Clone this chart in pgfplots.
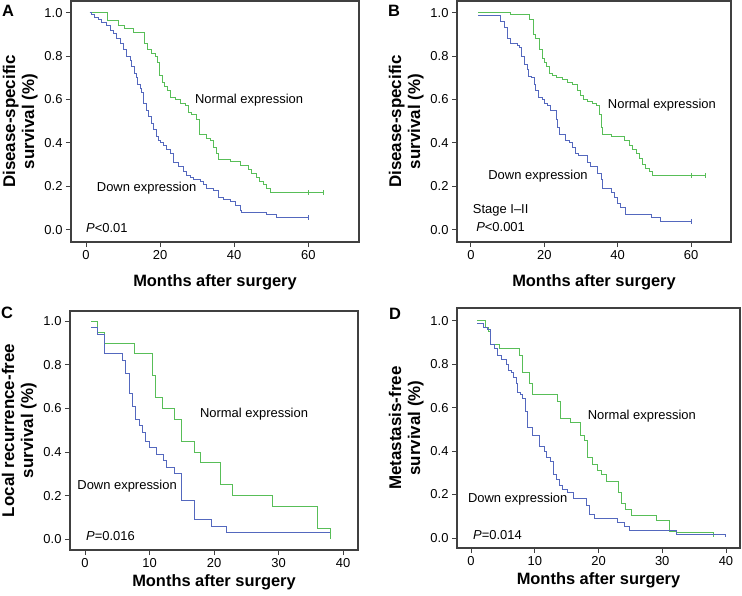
\documentclass[border=0pt]{standalone}
\usepackage{fontspec}
\setmainfont{Liberation Sans}
\usepackage{pgfplots}
\pgfplotsset{compat=1.18}
\definecolor{kmgreen}{RGB}{88,190,88}
\definecolor{kmblue}{RGB}{84,104,190}
\definecolor{frame}{RGB}{64,64,64}
\newcommand{\tickfont}{\fontsize{13}{13}\selectfont}
\newcommand{\labfont}{\fontsize{16.5}{18}\selectfont\bfseries}
\newcommand{\ylabfont}{\fontsize{17}{19}\selectfont\bfseries}
\pgfplotsset{
  km/.style={
    scale only axis, anchor=north west,
    axis line style={draw=frame, line width=1.1bp},
    tick align=outside, major tick length=5bp,
    tick style={draw=frame, line width=0.9bp},
    xtick pos=bottom, ytick pos=left,
    ytick={0,0.2,0.4,0.6,0.8,1.0},
    ticklabel style={font=\tickfont},
    /pgf/number format/assume math mode=true,
    yticklabel style={/pgf/number format/.cd, fixed, fixed zerofill, precision=1},
    xticklabel style={/pgf/number format/.cd, fixed},
    xlabel={Months after surgery},
    xlabel style={font=\labfont},
    ylabel style={font=\ylabfont, align=center},
  },
  surv/.style={const plot, line width=1bp, mark=none},
  cens/.style={only marks, mark=|, mark size=2.5bp, mark options={line width=0.9bp}},
}
\tikzset{note/.style={font=\tickfont, anchor=west, inner sep=0pt}}
\begin{document}
\begin{tikzpicture}
\useasboundingbox (0,0) rectangle (742bp,-596bp);

% ---- A ----
\begin{axis}[km, at={(71bp,-1bp)}, width=288bp, height=241bp,
  xmin=-4.05, xmax=73.7, ymin=-0.057, ymax=1.054, xtick={0,20,40,60},
  xlabel style={yshift=-8bp},
  ylabel={Disease-specific\\survival (\%)}]
\addplot[kmgreen, surv] coordinates {(1,1.0) (5.8,0.966) (8.7,0.943) (10.5,0.928) (12.8,0.91) (15.7,0.86) (16.7,0.83) (17.7,0.81) (18.8,0.80) (19.2,0.77) (19.8,0.71) (20.7,0.68) (21.1,0.66) (22,0.64) (22.9,0.61) (24.1,0.60) (25.4,0.58) (26.8,0.57) (27.7,0.54) (28.6,0.53) (29.9,0.51) (30.6,0.44) (32.6,0.42) (33.5,0.41) (34.4,0.38) (35.1,0.35) (35.8,0.325) (38.9,0.314) (41.6,0.296) (43.9,0.276) (44.8,0.26) (46.1,0.24) (46.8,0.22) (47.9,0.21) (48.8,0.19) (49.7,0.17) (64,0.17)};
\addplot[kmblue, surv] coordinates {(1,1.0) (1.5,0.99) (2.4,0.98) (3.3,0.97) (4.2,0.955) (5.6,0.94) (6.5,0.92) (7.4,0.905) (8.3,0.88) (9.2,0.86) (10.1,0.83) (11,0.80) (11.9,0.78) (12.3,0.75) (13.2,0.72) (13.5,0.70) (13.9,0.67) (14.6,0.65) (15,0.63) (15.5,0.58) (16.4,0.55) (16.8,0.52) (17.7,0.49) (18.2,0.46) (18.9,0.43) (19.5,0.41) (20,0.40) (20.9,0.39) (21.8,0.37) (22.7,0.35) (23.6,0.31) (25,0.29) (26.3,0.27) (27.2,0.25) (28.1,0.24) (29,0.23) (30.8,0.22) (31.7,0.21) (32.6,0.19) (34.4,0.18) (35.8,0.15) (37.1,0.14) (38.9,0.13) (40.3,0.11) (41.6,0.09) (42.1,0.077) (48.8,0.069) (51.5,0.054) (60,0.054)};
\addplot[kmgreen, cens] coordinates {(60,0.17) (64,0.17)};
\addplot[kmblue, cens] coordinates {(60,0.054)};
\node[note] at (axis cs:29.4,0.598) {Normal expression};
\node[note] at (axis cs:2.9,0.189) {Down expression};
\node[note] at (axis cs:0,0.008) {\textit{P}<0.01};
\end{axis}

% ---- B ----
\begin{axis}[km, at={(457bp,-1bp)}, width=274bp, height=241bp,
  xmin=-3.8, xmax=70.9, ymin=-0.057, ymax=1.054, xtick={0,20,40,60},
  xlabel style={yshift=-8bp},
  ylabel={Disease-specific\\survival (\%)}]
\addplot[kmgreen, surv] coordinates {(2,1.0) (10.9,0.99) (15.9,0.97) (17,0.90) (17.7,0.88) (18.6,0.83) (19.5,0.79) (20,0.77) (20.5,0.75) (21.4,0.72) (22.3,0.71) (23.2,0.70) (25,0.69) (26.4,0.68) (27.7,0.67) (29.1,0.64) (30,0.62) (30.7,0.60) (31.8,0.59) (33.2,0.58) (34.1,0.57) (35,0.53) (35.5,0.47) (35.9,0.44) (38.2,0.43) (41.8,0.41) (43.2,0.39) (44.1,0.37) (45,0.35) (45.9,0.33) (46.8,0.30) (47.7,0.28) (48.6,0.27) (49.5,0.25) (64,0.25)};
\addplot[kmblue, surv] coordinates {(2,0.985) (8,0.96) (9.1,0.93) (10,0.88) (10.9,0.86) (12.7,0.85) (13.2,0.84) (13.8,0.80) (14.5,0.76) (15.3,0.74) (15.7,0.705) (16.4,0.70) (17.3,0.67) (17.7,0.64) (18.4,0.61) (19.5,0.60) (20,0.58) (20.9,0.57) (21.8,0.55) (23.2,0.51) (23.6,0.47) (24.1,0.44) (25.9,0.41) (26.8,0.40) (27.7,0.38) (28.6,0.35) (29.3,0.34) (31.8,0.31) (32.7,0.29) (34.5,0.26) (35.5,0.23) (35.9,0.19) (38.2,0.17) (39.1,0.146) (40,0.12) (40.9,0.10) (42,0.07) (49.1,0.054) (51.8,0.038) (60,0.038)};
\addplot[kmgreen, cens] coordinates {(60,0.25) (64,0.25)};
\addplot[kmblue, cens] coordinates {(60,0.038)};
\node[note] at (axis cs:37.3,0.575) {Normal expression};
\node[note] at (axis cs:4.7,0.245) {Down expression};
\node[note] at (axis cs:0.5,0.089) {Stage I–II};
\node[note] at (axis cs:1.4,0.012) {\textit{P}<0.001};
\end{axis}

% ---- C ----
\begin{axis}[km, at={(70bp,-311bp)}, width=288bp, height=239bp,
  xmin=-2.32, xmax=42.3, ymin=-0.049, ymax=1.047, xtick={0,10,20,30,40},
  ylabel={Local recurrence-free\\survival (\%)}]
\addplot[kmgreen, surv] coordinates {(1,1.0) (2,0.95) (3.1,0.90) (7.6,0.85) (10.5,0.75) (11,0.65) (12,0.60) (13.9,0.55) (15,0.45) (16.9,0.40) (17.9,0.35) (21,0.25) (22.9,0.20) (29,0.15) (36,0.05) (38,0.0)};
\addplot[kmblue, surv] coordinates {(1,0.97) (2,0.94) (3,0.85) (5.8,0.82) (6.3,0.76) (6.9,0.67) (7.4,0.61) (7.9,0.55) (8.4,0.52) (8.9,0.49) (9.4,0.45) (10,0.42) (11.1,0.39) (12.1,0.36) (12.6,0.33) (13.9,0.30) (15,0.18) (16.9,0.09) (19.6,0.06) (21.9,0.03) (38,0.03)};
\node[note] at (axis cs:17.8,0.576) {Normal expression};
\node[note] at (axis cs:-1.2,0.242) {Down expression};
\node[note] at (axis cs:0.15,0.017) {\textit{P}=0.016};
\end{axis}

% ---- D ----
\begin{axis}[km, at={(457bp,-308bp)}, width=283bp, height=240bp,
  xmin=-2.2, xmax=42.2, ymin=-0.046, ymax=1.058, xtick={0,10,20,30,40},
  ylabel={Metastasis-free\\survival (\%)}]
\addplot[kmgreen, surv] coordinates {(1,1.0) (2.2,0.97) (2.7,0.95) (3.1,0.89) (4.5,0.87) (7.6,0.84) (8.1,0.76) (9.2,0.71) (9.7,0.66) (13.6,0.63) (14.1,0.55) (15.6,0.53) (17.2,0.47) (17.8,0.45) (18.2,0.37) (19.1,0.34) (19.8,0.31) (20.4,0.29) (21.2,0.26) (23.1,0.21) (23.6,0.16) (24.3,0.13) (25.1,0.105) (29.1,0.08) (31.2,0.03) (32.2,0.026) (38,0.005)};
\addplot[kmblue, surv] coordinates {(1,0.985) (2,0.97) (2.6,0.96) (3,0.89) (3.7,0.87) (4.2,0.84) (4.8,0.82) (5.5,0.80) (5.9,0.77) (6.3,0.76) (6.7,0.74) (7.1,0.71) (7.3,0.67) (7.7,0.66) (8.1,0.64) (8.5,0.58) (8.9,0.51) (9.7,0.47) (10.7,0.42) (11.5,0.40) (11.9,0.37) (12.5,0.35) (13,0.29) (13.4,0.27) (13.9,0.24) (14.4,0.225) (15.2,0.21) (16.1,0.18) (18.1,0.15) (18.6,0.11) (19.4,0.09) (23,0.07) (24.1,0.055) (24.9,0.035) (32.2,0.018) (40,0.005)};
\node[note] at (axis cs:18.3,0.56) {Normal expression};
\node[note] at (axis cs:-0.5,0.181) {Down expression};
\node[note] at (axis cs:0.3,0.012) {\textit{P}=0.014};
\end{axis}

% panel letters
\node[font=\labfont, anchor=base west, inner sep=0pt] at (2bp,-16.7bp) {A};
\node[font=\labfont, anchor=base west, inner sep=0pt] at (388bp,-16.7bp) {B};
\node[font=\labfont, anchor=base west, inner sep=0pt] at (1bp,-318bp) {C};
\node[font=\labfont, anchor=base west, inner sep=0pt] at (389bp,-319.5bp) {D};
\end{tikzpicture}
\end{document}
